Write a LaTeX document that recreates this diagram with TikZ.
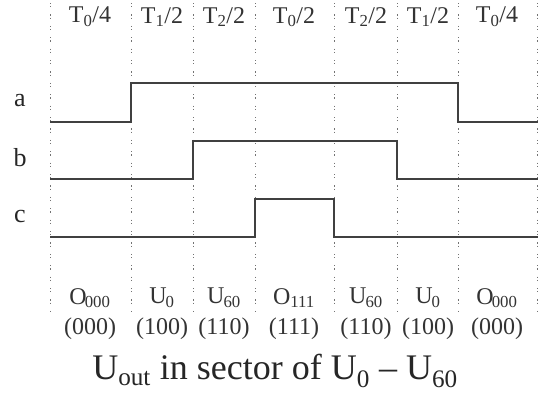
\documentclass[tikz,border=0pt]{standalone}
\usepackage{fontspec}
\setmainfont{Liberation Serif}
\newcommand{\sub}[1]{\textsubscript{#1}}

\begin{document}
\begin{tikzpicture}[x=1pt,y=-1pt,
  wave/.style={line width=1.6pt,black!75},
  slot/.style={line width=0.9pt,black!55,dash pattern=on 1.2pt off 2pt on 1.2pt off 7pt},
  lbl/.style={font=\fontsize{24}{24}\selectfont,inner sep=0pt,text=black!80},
  phase/.style={font=\fontsize{26}{26}\selectfont,inner sep=0pt,text=black!85},
  caption/.style={font=\fontsize{36}{36}\selectfont,inner sep=0pt,text=black!85}]
\useasboundingbox (0,0) rectangle (538,397);
% slot borders
\foreach \x in {50,131,193,255,334,397,458,537}
  \draw[slot] (\x,3)--(\x,312);
% switching functions
\draw[wave] (50,122)--(131,122)--(131,83)--(458,83)--(458,122)--(538,122);
\draw[wave] (50,179)--(193,179)--(193,141)--(397,141)--(397,179)--(538,179);
\draw[wave] (50,237)--(255,237)--(255,199)--(334,199)--(334,237)--(538,237);
\node[phase] (a) at (20,101) {a};
\node[phase] (b) at (20,158) {b};
\node[phase] (c) at (20,216) {c};
% durations
\node[lbl] (t1) at (90,17) {T\sub{0}/4};
\node[lbl] (t2) at (162,17) {T\sub{1}/2};
\node[lbl] (t3) at (224,17) {T\sub{2}/2};
\node[lbl] (t4) at (294,17) {T\sub{0}/2};
\node[lbl] (t5) at (366,17) {T\sub{2}/2};
\node[lbl] (t6) at (428,17) {T\sub{1}/2};
\node[lbl] (t7) at (497,17) {T\sub{0}/4};
% vectors
\node[lbl] (v1) at (90,298) {O\kern-2pt\sub{000}};
\node[lbl] (v2) at (162,298) {U\kern-1pt\sub{0}};
\node[lbl] (v3) at (224,298) {U\kern-1pt\sub{60}};
\node[lbl] (v4) at (294,298) {O\sub{111}};
\node[lbl] (v5) at (366,298) {U\kern-1pt\sub{60}};
\node[lbl] (v6) at (428,298) {U\kern-1pt\sub{0}};
\node[lbl] (v7) at (497,298) {O\kern-2pt\sub{000}};
\node[lbl] (s1) at (90,329) {(000)};
\node[lbl] (s2) at (162,329) {(100)};
\node[lbl] (s3) at (224,329) {(110)};
\node[lbl] (s4) at (294,329) {(111)};
\node[lbl] (s5) at (366,329) {(110)};
\node[lbl] (s6) at (428,329) {(100)};
\node[lbl] (s7) at (497,329) {(000)};
\node[caption] (title) at (275,371) {U\sub{out} in sector of U\sub{0} -- U\sub{60}};
\end{tikzpicture}
\end{document}
